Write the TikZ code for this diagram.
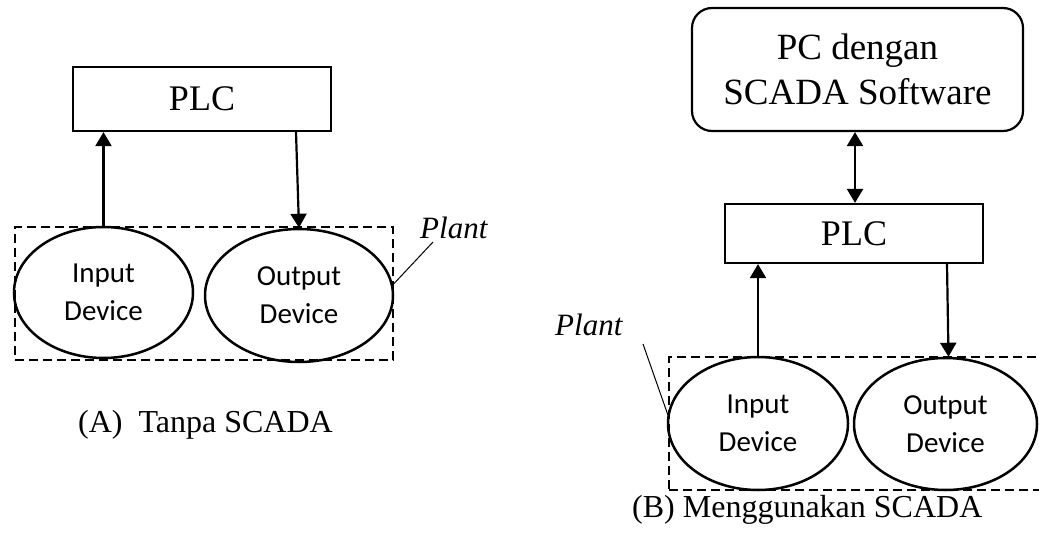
\documentclass[tikz,border=0pt]{standalone}
\usepackage{fontspec}
\setmainfont{Liberation Serif}
\newfontfamily\devfont{Carlito}
\usetikzlibrary{arrows.meta,shapes.geometric}

\tikzset{
  plcbox/.style={draw, line width=2.2pt, inner sep=0pt, minimum width=258pt,
                 font=\fontsize{36}{43}\selectfont},
  device/.style={draw, ellipse, line width=2.5pt, inner sep=0pt, align=center,
                 font=\devfont\fontsize{29}{38}\selectfont},
  plantbox/.style={draw, dash pattern=on 9pt off 5pt, line width=2.2pt, inner sep=0pt},
  flow/.style={line width=2.2pt, -{Triangle[length=14pt,width=16pt]}},
  bothflow/.style={line width=2.2pt, {Triangle[length=14pt,width=16pt]}-{Triangle[length=14pt,width=16pt]}},
  leader/.style={line width=1pt},
  plantlabel/.style={anchor=base west, inner sep=0pt, font=\itshape\fontsize{31}{37}\selectfont},
  caption/.style={anchor=base west, inner sep=0pt, font=\fontsize{32}{38}\selectfont}
}

\begin{document}
\begin{tikzpicture}[x=1pt,y=-1pt]
\useasboundingbox (0,0) rectangle (1039,535);

% ---------- (A) without SCADA ----------
\node[plantbox, minimum width=378pt, minimum height=133pt] (plantboxA) at (204,293.5) {};
\node[plcbox, minimum height=64pt] (plcA) at (202,99) {PLC};
\node[device, minimum width=179pt, minimum height=131pt] (inA) at (103.5,292.5) {Input\\Device};
\node[device, minimum width=188pt, minimum height=133pt] (outA) at (299,295.5) {Output\\Device};

\draw[flow] (inA.north) -- (inA.north |- plcA.south);
\draw[flow] ([xshift=-3pt]outA.north |- plcA.south) -- (outA.north);

\node[plantlabel] (plantA) at (420,238) {Plant};
\coordinate (plantAend) at (433,242);
\draw[leader] ([yshift=10pt]plantboxA.east) -- (plantAend);

\node[caption] (capA) at (78,432) {(A)\hspace{0.5em}Tanpa SCADA};

% ---------- (B) with SCADA ----------
\node[draw, line width=2.2pt, rounded corners=20pt, inner sep=0pt, align=center,
      minimum width=331pt, minimum height=123pt,
      font=\fontsize{37}{45}\selectfont] (pc) at (857.5,69.5) {PC dengan\\SCADA Software};
\node[plcbox, minimum height=59pt] (plcB) at (854,233.5) {PLC};
\node[plantbox, minimum width=376pt, minimum height=133pt] (plantboxB) at (857,423.5) {};
\node[device, minimum width=180pt, minimum height=133pt] (inB) at (758,423.5) {Input\\Device};
\node[device, minimum width=183pt, minimum height=132pt] (outB) at (945.5,424) {Output\\Device};

\draw[bothflow] ([xshift=1pt]plcB.north) -- ([xshift=1pt]plcB.north |- pc.south);
\draw[flow] (inB.north) -- (inB.north |- plcB.south);
\draw[flow] ([xshift=1.5pt]outB.north |- plcB.south) -- ([xshift=3pt]outB.north);

\node[plantlabel] (plantB) at (555,335) {Plant};
\coordinate (plantBstart) at (643,344);
\draw[leader] (plantBstart) -- ([yshift=8.5pt]plantboxB.west);

\node[caption] (capB) at (632,517) {(B) Menggunakan SCADA};
\end{tikzpicture}
\end{document}
